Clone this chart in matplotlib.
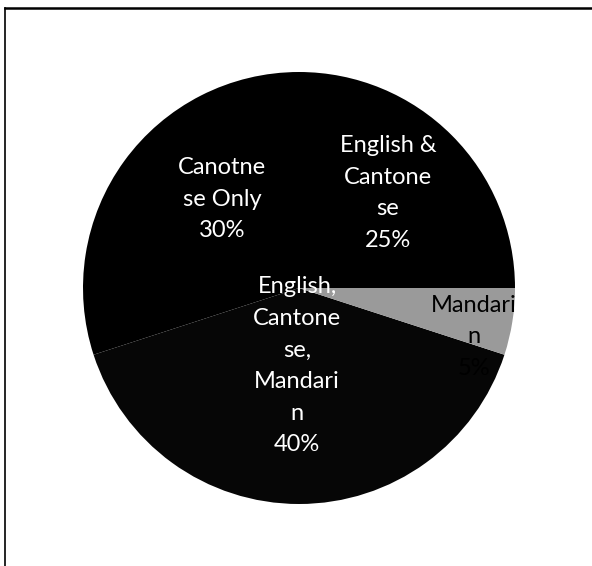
import matplotlib
matplotlib.use("Agg")
import matplotlib.pyplot as plt
from matplotlib.lines import Line2D
from matplotlib.patches import Circle

# language groups, counter-clockwise from 3 o'clock
labels = ["English &\nCantone\nse", "Canotne\nse Only", "English,\nCantone\nse,\nMandari\nn", "Mandari\nn"]
shares = [25, 30, 40, 5]
colors = ["#000000", "#000000", "#060606", "#9a9a9a"]
text_colors = ["white", "white", "white", "black"]
# where each label sits (data units, pie radius = 1)
label_pos = [(0.412, 0.44), (-0.356, 0.412), (-0.009, -0.36), (0.81, -0.225)]

fig = plt.figure(figsize=(5.92, 5.66), dpi=100)
fig.patch.set_facecolor("white")

ax = fig.add_axes([83/592, 62/566, 432/592, 432/566])
ax.pie(shares, colors=colors, startangle=0, counterclock=True, radius=1,
       wedgeprops=dict(linewidth=0))
ax.set_xlim(-1, 1)
ax.set_ylim(-1, 1)
ax.set_aspect("equal")
ax.axis("off")

clip = Circle((0, 0), 1, transform=ax.transData)
for lab, val, pos, tc in zip(labels, shares, label_pos, text_colors):
    t = ax.text(pos[0], pos[1], lab + "\n" + str(val) + "%", ha="center", va="center",
                color=tc, fontsize=17, family="Lato", linespacing=1.62)
    t.set_clip_path(clip)

# border lines along the top and left edge
fig.add_artist(Line2D([5/592, 1], [1 - 8/566, 1 - 8/566], color="black", linewidth=1.8,
                      transform=fig.transFigure))
fig.add_artist(Line2D([5/592, 5/592], [0, 1 - 8/566], color="black", linewidth=1.2,
                      transform=fig.transFigure))

fig.savefig("out.png", dpi=100)
